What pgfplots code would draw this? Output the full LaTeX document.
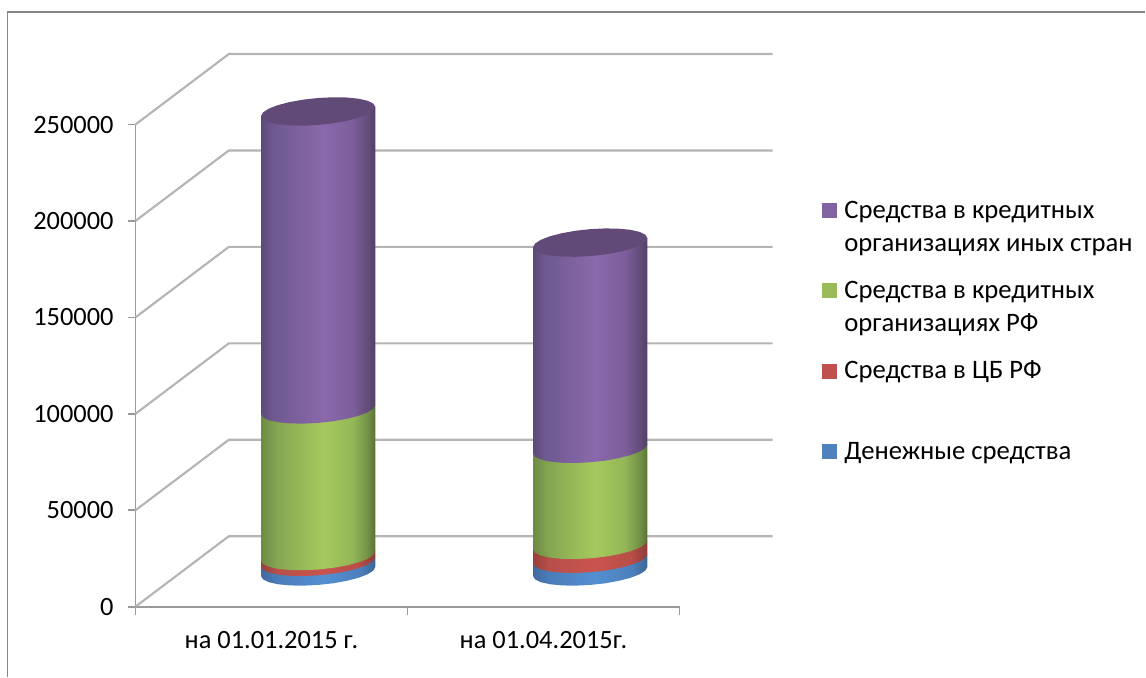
\documentclass[border=0pt]{standalone}
\usepackage{fontspec}
\setmainfont{Carlito}
\usepackage{pgfplots}
\usepackage{pgfplotstable}
\pgfplotsset{compat=1.18}
\definecolor{gridg}{HTML}{B4B4B4}
\definecolor{axisg}{HTML}{9A9A9A}
\definecolor{frameg}{HTML}{868686}
\definecolor{cpurple}{HTML}{8064A2}
\definecolor{cgreen}{HTML}{9BBB59}
\definecolor{cred}{HTML}{C0504D}
\definecolor{cblue}{HTML}{4F81BD}
\definecolor{ccap}{HTML}{614A78}
\definecolor{Pa}{HTML}{5C4A78}\definecolor{Pb}{HTML}{6E5990}\definecolor{Pc}{HTML}{8A69AB}\definecolor{Pd}{HTML}{7D5E9C}\definecolor{Pe}{HTML}{614C78}\definecolor{Pf}{HTML}{4F4066}
\definecolor{Ga}{HTML}{6E8A45}\definecolor{Gb}{HTML}{85A652}\definecolor{Gc}{HTML}{A6C95E}\definecolor{Gd}{HTML}{94B757}\definecolor{Ge}{HTML}{708F45}\definecolor{Gf}{HTML}{597333}
\definecolor{Ra}{HTML}{994039}\definecolor{Rb}{HTML}{B84F4A}\definecolor{Rc}{HTML}{C9544F}\definecolor{Rd}{HTML}{B84D47}\definecolor{Re}{HTML}{8F3B38}
\definecolor{Ba}{HTML}{406B9E}\definecolor{Bb}{HTML}{4A7DBA}\definecolor{Bc}{HTML}{548FD1}\definecolor{Bd}{HTML}{4D80BD}\definecolor{Be}{HTML}{3D6694}
% cylinder shadings (path width maps to 25bp..75bp)
\pgfdeclarehorizontalshading{sPurple}{100bp}{color(0bp)=(Pa);color(25bp)=(Pa);color(30bp)=(Pb);color(52bp)=(Pc);color(65bp)=(Pd);color(72bp)=(Pe);color(75bp)=(Pf);color(100bp)=(Pf)}
\pgfdeclarehorizontalshading{sGreen}{100bp}{color(0bp)=(Ga);color(25bp)=(Ga);color(32bp)=(Gb);color(52bp)=(Gc);color(65bp)=(Gd);color(72bp)=(Ge);color(75bp)=(Gf);color(100bp)=(Gf)}
\pgfdeclarehorizontalshading{sRed}{100bp}{color(0bp)=(Ra);color(25bp)=(Ra);color(32bp)=(Rb);color(52bp)=(Rc);color(68bp)=(Rd);color(75bp)=(Re);color(100bp)=(Re)}
\pgfdeclarehorizontalshading{sBlue}{100bp}{color(0bp)=(Ba);color(25bp)=(Ba);color(32bp)=(Bb);color(52bp)=(Bc);color(68bp)=(Bd);color(75bp)=(Be);color(100bp)=(Be)}
% outline of one cylinder slice, in reference pixels round its centre
\pgfplotstableread{
dx dy up
-57.14 -4.56 0
-55.19 -7.89 0
-49.49 -10.68 0
-40.38 -12.75 0
-28.56 -13.94 0
-14.79 -14.19 0
0 -13.47 0
14.79 -11.83 0
28.56 -9.39 0
40.42 -6.30 0
49.48 -2.79 0
55.19 0.91 0
57.14 4.56 0
57.14 4.56 1
-57.14 -4.56 1
}\sliceshape
\pgfplotstableread{
dx dy
-57.14 -4.56
-55.19 -7.89
-49.49 -10.68
-40.38 -12.75
-28.56 -13.94
-14.79 -14.19
0 -13.47
14.79 -11.83
28.56 -9.39
40.42 -6.30
49.48 -2.79
55.19 0.91
57.14 4.56
55.19 7.89
49.49 10.68
40.38 12.75
28.56 13.94
14.79 14.19
0 13.47
-14.79 11.83
-28.56 9.39
-40.42 6.30
-49.48 2.79
-55.19 -0.91
}\capshape
% #1 category, #2 cumulative low, #3 cumulative high, #4 shading
\newcommand{\band}[4]{%
\addplot[forget plot,draw=none,mark=none,shade,shading=#4] table[
 x expr={#1+0.1717+\thisrow{dx}/272.25},
 y expr={18283+\thisrow{up}*#3+(1-\thisrow{up})*#2+\thisrow{dy}*518.67}] {\sliceshape};}
\newcommand{\bandcap}[2]{%
\addplot[forget plot,draw=none,mark=none,fill=ccap] table[
 x expr={#1+0.1717+\thisrow{dx}/272.25},
 y expr={18283+#2+\thisrow{dy}*518.67}] {\capshape};}
\newcommand{\wallv}[2]{%
\addplot[forget plot,gridg,line width=1.6pt,mark=none] coordinates {(-0.5,#1) (-0.1566,#2) (1.8416,#2)};}
\newcommand{\lgt}[1]{\hspace*{5.25pt}\raisebox{-1.1pt}[0pt][0pt]{\parbox[t]{218pt}{\fontsize{20}{24.75}\selectfont #1}}}
\begin{document}
\begin{tikzpicture}
\begin{axis}[
 scale only axis,
 width=408.375pt,height=361.875pt,
 xmin=-0.5,xmax=1.5,ymin=0,ymax=250000,
 clip=false,
 axis x line=bottom,axis y line=left,
 axis line style={-,axisg,line width=1.3pt},
 ytick={0,50000,100000,150000,200000,250000},
 yticklabels={0,50000,100000,150000,200000,250000},
 scaled y ticks=false,
 yticklabel style={font=\fontsize{19.8}{24}\selectfont,inner sep=0pt,xshift=-11pt},
 xtick={0,1},
 xticklabels={на 01.01.2015 г.,на 01.04.2015г.},
 xticklabel style={font=\fontsize{19.8}{24}\selectfont,inner sep=0pt,yshift=-13pt},
 minor xtick={-0.5,0.5,1.5},
 tick align=outside,
 major tick length=5.25pt,minor tick length=6pt,
 major x tick style={draw=none},
 minor x tick style={draw=axisg,line width=1.2pt},
 major y tick style={draw=axisg,line width=1.2pt},
 legend style={at={(axis cs:2.025,209280)},anchor=north west,draw=none,fill=none,inner sep=0pt,outer sep=0pt,
   nodes={inner sep=0pt,outer sep=0pt},row sep=48.2pt},
 legend cell align=left,
 legend image code/.code={\fill[#1,draw=none] (0pt,0pt) rectangle (11.25pt,11.25pt);},
]
% picture extent, and chart frame
\path (axis cs:-0.9977,-36565) rectangle (axis cs:3.2117,314574);
\addplot[forget plot,frameg,line width=1.1pt,mark=none] coordinates {(-0.9700,-36565) (-0.9700,308350) (3.2117,308350)};
% walls and floor
\wallv{0}{36566}
\wallv{50000}{86566}
\wallv{100000}{136566}
\wallv{150000}{186566}
\wallv{200000}{236566}
\wallv{250000}{286566}
% first date: money 5000, central bank 3000, Russian banks 76000, foreign banks 154500
\band{0}{0}{5000}{sBlue}
\band{0}{5000}{8000}{sRed}
\band{0}{8000}{84000}{sGreen}
\band{0}{84000}{238500}{sPurple}
\bandcap{0}{238500}
% second date: money 6600, central bank 7200, Russian banks 49800, foreign banks 106900
\band{1}{0}{6600}{sBlue}
\band{1}{6600}{13800}{sRed}
\band{1}{13800}{63600}{sGreen}
\band{1}{63600}{170500}{sPurple}
\bandcap{1}{170500}
\addlegendimage{fill=cpurple}\addlegendentry{\lgt{Средства в кредитных\\организациях иных стран}}
\addlegendimage{fill=cgreen}\addlegendentry{\lgt{Средства в кредитных\\организациях РФ}}
\addlegendimage{fill=cred}\addlegendentry{\lgt{Средства в ЦБ РФ}}
\addlegendimage{fill=cblue}\addlegendentry{\lgt{Денежные средства}}
\end{axis}
\end{tikzpicture}
\end{document}
